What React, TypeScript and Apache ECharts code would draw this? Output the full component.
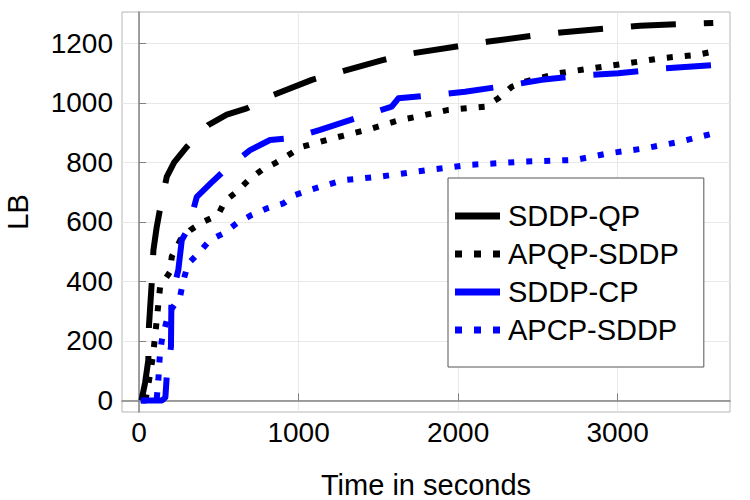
import React, { useEffect, useRef } from "react";
import * as echarts from "echarts";

const seriesNames = ["SDDP-QP", "APQP-SDDP", "SDDP-CP", "APCP-SDDP"];

const qpTime = [15, 38, 58, 62, 80, 90, 110, 132, 174, 220, 299, 433, 550, 675, 841, 1083, 1271, 1532, 1710, 1992, 2180, 2462, 2661, 2943, 3141, 3434, 3600];
const qpLB = [0, 60, 135, 250, 400, 505, 580, 645, 752, 800, 852, 925, 960, 981, 1026, 1077, 1105, 1144, 1166, 1189, 1205, 1225, 1237, 1250, 1259, 1265, 1268];

const apqpTime = [40, 70, 88, 100, 132, 194, 205, 260, 320, 401, 495, 539, 612, 685, 769, 853, 936, 1020, 1218, 1427, 1636, 1741, 1939, 2169, 2253, 2337, 2420, 2629, 2838, 3068, 3277, 3496, 3600];
const apqpLB = [0, 90, 153, 214, 382, 432, 483, 540, 572, 600, 623, 670, 701, 740, 774, 797, 824, 852, 881, 909, 942, 953, 976, 987, 1015, 1054, 1071, 1099, 1116, 1133, 1150, 1161, 1172];

const cpTime = [15, 145, 165, 174, 200, 203, 246, 268, 309, 362, 450, 550, 696, 821, 957, 1135, 1386, 1584, 1626, 1856, 2044, 2337, 2525, 2807, 3005, 3298, 3600];
const cpLB = [0, 0, 10, 85, 180, 343, 438, 539, 578, 684, 730, 780, 841, 875, 881, 909, 953, 987, 1015, 1026, 1037, 1060, 1077, 1093, 1099, 1116, 1127];

const apcpTime = [10, 110, 121, 130, 142, 184, 257, 278, 309, 382, 445, 529, 612, 706, 800, 905, 978, 1072, 1177, 1281, 1511, 1730, 2065, 2399, 2734, 2943, 3172, 3392, 3600];
const apcpLB = [0, 0, 70, 150, 200, 292, 348, 404, 460, 500, 539, 561, 595, 623, 645, 662, 690, 707, 724, 740, 752, 768, 791, 802, 808, 830, 847, 869, 897];

const xTicks = [0, 1000, 2000, 3000];
const yTicks = [0, 200, 400, 600, 800, 1000, 1200];

const FONT = "'Liberation Sans', Arial, Helvetica, sans-serif";
const SOLID_ICON = "path://M0,0h45v7h-45z";
const DOT_ICON = "path://M0,0h7v7h-7z M19,0h7v7h-7z M38,0h7v7h-7z";

function pairs(xs: number[], ys: number[]) {
  return xs.map((x, i) => [x, ys[i]]);
}

export default function App() {
  const ref = useRef<HTMLDivElement>(null);
  useEffect(() => {
    if (!ref.current) return;
    const chart = echarts.init(ref.current, undefined, { renderer: "svg" });
    const mk = (name: string, data: number[][], color: string, dash: number[]) => ({
      name,
      type: "line",
      data,
      symbol: "none",
      showSymbol: false,
      lineStyle: { color, width: 6, type: dash, cap: "butt", join: "round" },
      itemStyle: { color },
    });
    chart.setOption({
      animation: false,
      backgroundColor: "#ffffff",
      grid: {
        left: 122,
        right: 20,
        top: 12,
        bottom: 88,
        containLabel: false,
        outerBoundsMode: "none",
        show: true,
        borderColor: "#b5b5b5",
        borderWidth: 1,
        backgroundColor: "transparent",
      },
      xAxis: {
        type: "value",
        min: -107,
        max: 3705,
        name: "Time in seconds",
        nameLocation: "middle",
        nameGap: 58,
        nameTextStyle: { fontSize: 29, lineHeight: 29, color: "#000", fontFamily: FONT },
        axisLine: { show: true, lineStyle: { color: "#808080", width: 1.5 } },
        axisTick: { show: true, inside: true, length: 7, customValues: xTicks, lineStyle: { color: "#808080", width: 1 } },
        axisLabel: { customValues: xTicks, fontSize: 28, color: "#000", fontFamily: FONT, margin: 6, formatter: (v: number) => String(v) },
        splitLine: { show: true, lineStyle: { color: "#e8e8e8", width: 1 } },
      },
      yAxis: {
        type: "value",
        min: -39,
        max: 1305,
        name: "LB",
        nameLocation: "middle",
        nameGap: 90,
        nameRotate: 90,
        nameTextStyle: { fontSize: 29, lineHeight: 29, color: "#000", fontFamily: FONT },
        axisLine: { show: true, lineStyle: { color: "#808080", width: 1.5 } },
        axisTick: { show: true, inside: true, length: 7, customValues: yTicks, lineStyle: { color: "#808080", width: 1 } },
        axisLabel: { customValues: yTicks, fontSize: 28, color: "#000", fontFamily: FONT, margin: 9, formatter: (v: number) => String(v) },
        splitLine: { show: true, lineStyle: { color: "#e8e8e8", width: 1 } },
      },
      legend: {
        orient: "vertical",
        left: 448,
        top: 178,
        itemWidth: 45,
        itemHeight: 7,
        itemGap: 8,
        padding: [23, 25, 22, 7],
        borderColor: "#555555",
        borderWidth: 1,
        backgroundColor: "#ffffff",
        textStyle: { fontSize: 29, color: "#000", fontFamily: FONT, lineHeight: 30, padding: [0, 0, 0, 3] },
        data: [
          { name: seriesNames[0], icon: SOLID_ICON, itemStyle: { color: "#000000" } },
          { name: seriesNames[1], icon: DOT_ICON, itemStyle: { color: "#000000" } },
          { name: seriesNames[2], icon: SOLID_ICON, itemStyle: { color: "#0000ff" } },
          { name: seriesNames[3], icon: DOT_ICON, itemStyle: { color: "#0000ff" } },
        ],
      },
      series: [
        mk(seriesNames[0], pairs(qpTime, qpLB), "#000000", [45, 28]),
        mk(seriesNames[1], pairs(apqpTime, apqpLB), "#000000", [6, 12]),
        mk(seriesNames[2], pairs(cpTime, cpLB), "#0000ff", [45, 28]),
        mk(seriesNames[3], pairs(apcpTime, apcpLB), "#0000ff", [6, 12]),
      ],
    });
    return () => chart.dispose();
  }, []);
  return <div ref={ref} style={{ position: "fixed", left: 0, top: 0, width: 750, height: 500 }} />;
}
